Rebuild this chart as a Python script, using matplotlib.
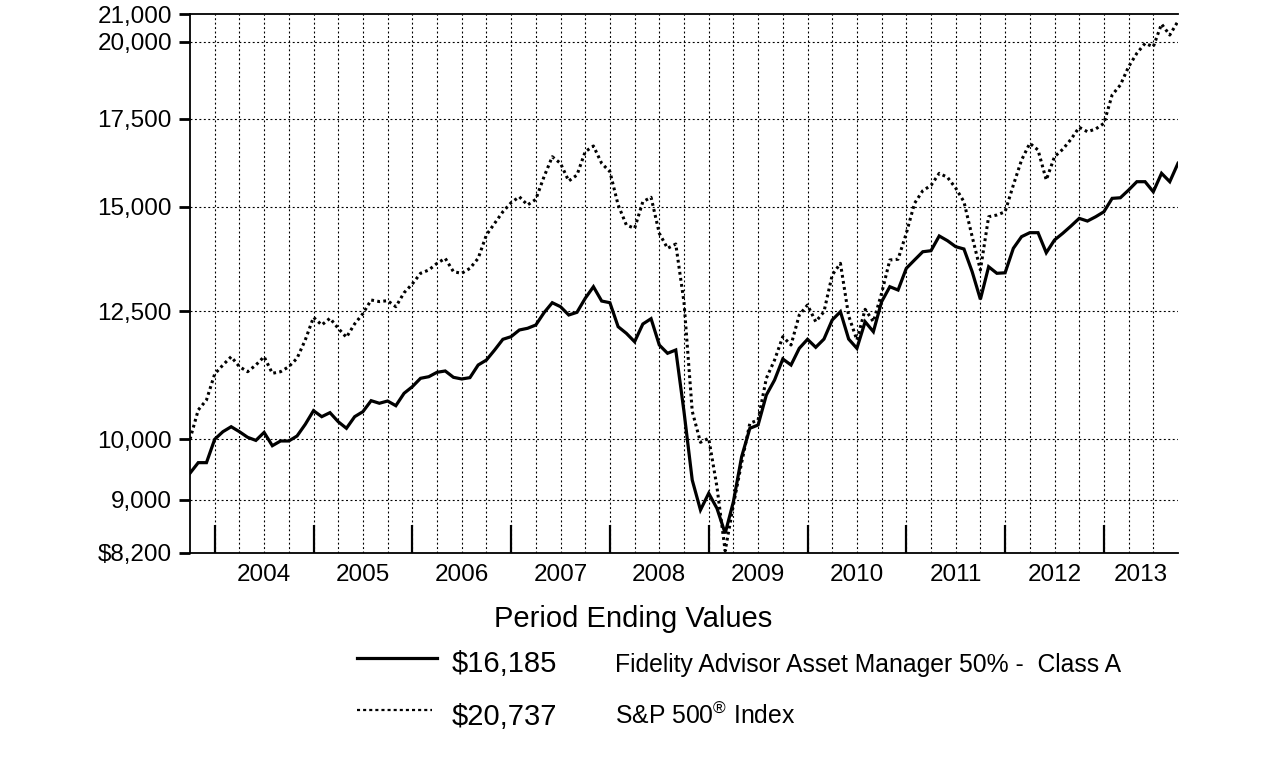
import numpy as np
import matplotlib
matplotlib.use("Agg")
import matplotlib.pyplot as plt
from matplotlib.lines import Line2D
from matplotlib.ticker import FixedLocator, FixedFormatter, NullFormatter

plt.rcParams['font.family'] = ['Liberation Sans', 'DejaVu Sans']
plt.rcParams['lines.scale_dashes'] = False
plt.rcParams['mathtext.fontset'] = 'custom'
plt.rcParams['mathtext.rm'] = 'Liberation Sans'

# ---------------- data (month-end values, Sep 2003 .. Sep 2013) ----------------
fund = [9425, 9600, 9600, 10000, 10133, 10221, 10133, 10034, 9980, 10120,
        9888, 9970, 9970, 10057, 10264, 10511, 10402, 10475, 10311, 10193,
        10402, 10493, 10696, 10648, 10690, 10603, 10835, 10960, 11122, 11153,
        11239, 11265, 11141, 11109, 11135, 11383, 11482, 11685, 11905, 11960,
        12100, 12136, 12206, 12471, 12690, 12602, 12421, 12479, 12787, 13049,
        12727, 12690, 12170, 12030, 11855, 12227, 12341, 11787, 11618, 11685,
        10493, 9313, 8839, 9100, 8865, 8486, 8968, 9700, 10193, 10252,
        10802, 11089, 11503, 11383, 11719, 11905, 11740, 11910, 12313, 12493,
        11910, 11719, 12276, 12064, 12712, 13049, 12974, 13474, 13672, 13870,
        13895, 14257, 14140, 13993, 13937, 13395, 12765, 13512, 13358, 13370,
        13953, 14240, 14339, 14339, 13846, 14157, 14323, 14506, 14702, 14633,
        14743, 14872, 15224, 15240, 15446, 15673, 15673, 15400, 15904, 15673,
        16185]

sp500 = [10000, 10524, 10709, 11206, 11383, 11549, 11350, 11251, 11383, 11549,
         11219, 11251, 11350, 11517, 11891, 12371, 12206, 12350, 12136, 11947,
         12230, 12450, 12750, 12715, 12735, 12602, 12913, 13111, 13358, 13435,
         13592, 13712, 13395, 13358, 13474, 13712, 14281, 14575, 14872, 15109,
         15267, 15049, 15197, 15810, 16371, 16183, 15692, 15857, 16515, 16680,
         16183, 15949, 15049, 14532, 14448, 15135, 15252, 14323, 13953, 14058,
         12700, 10500, 9947, 10016, 9205, 8230, 8917, 9600, 10283, 10341,
         11122, 11482, 11960, 11787, 12421, 12639, 12276, 12493, 13318, 13592,
         12400, 11891, 12545, 12276, 12900, 13672, 13690, 14323, 15092, 15428,
         15573, 15904, 15793, 15499, 15135, 14240, 13435, 14743, 14788, 14872,
         15580, 16277, 16759, 16564, 15720, 16371, 16584, 16876, 17233, 17101,
         17182, 17353, 18234, 18554, 19154, 19608, 19952, 19835, 20636, 20243,
         20737]

years = ["2004", "2005", "2006", "2007", "2008", "2009", "2010", "2011", "2012", "2013"]
y_ticks = [8200, 9000, 10000, 12500, 15000, 17500, 20000, 21000]
y_labels = ["$8,200", "9,000", "10,000", "12,500", "15,000", "17,500", "20,000", "21,000"]
grid_values = [9000, 10000, 12500, 15000, 17500, 20000]

fund_name = "Fidelity Advisor Asset Manager 50% -  Class A"
index_name = "S&P 500$^{®}$ Index"
fund_end = "$16,185"
index_end = "$20,737"
legend_title = "Period Ending Values"

# ---------------- figure ----------------
W, H = 1276, 761
fig = plt.figure(figsize=(W / 100, H / 100), dpi=100)
L, R, T, B = 190, 1178, 14, 553
ax = fig.add_axes([L / W, 1 - B / H, (R - L) / W, (B - T) / H])

n = len(fund)
x = np.arange(n)
ax.set_yscale('log')
ax.set_ylim(8200, 21000)
ax.set_xlim(0, n - 1)

# grid
dot = dict(color='black', lw=0.8, dashes=(1.4, 1.8))
for q in range(3, n - 1, 3):
    ax.axvline(q, **dot, zorder=1)
for g in grid_values:
    ax.axhline(g, **dot, zorder=1)

ax.plot(x, fund, color='black', lw=2.3, solid_joinstyle='miter', zorder=3)
ax.plot(x, sp500, color='black', lw=2.2, dashes=(2.0, 2.4), zorder=3)

# spines
for s in ['left', 'top', 'bottom']:
    ax.spines[s].set_linewidth(1.3)
ax.spines['right'].set_visible(False)

# y axis
ax.yaxis.set_major_locator(FixedLocator(y_ticks))
ax.yaxis.set_major_formatter(FixedFormatter(y_labels))
ax.yaxis.set_minor_locator(FixedLocator([]))
ax.yaxis.set_minor_formatter(NullFormatter())
ax.tick_params(axis='y', which='major', direction='out', length=8, width=2,
               labelsize=17.5, pad=5)

# x axis: year-end ticks inward, labels centred on each year
year_ends = [3 + 12 * k for k in range(len(years))]
centers = [(e + min(e + 12, n - 1)) / 2 for e in year_ends]
ax.xaxis.set_major_locator(FixedLocator(year_ends))
ax.xaxis.set_major_formatter(NullFormatter())
ax.xaxis.set_minor_locator(FixedLocator(centers))
ax.xaxis.set_minor_formatter(FixedFormatter(years))
ax.tick_params(axis='x', which='major', direction='in', length=20, width=1.6)
ax.tick_params(axis='x', which='minor', length=0, labelsize=17.5, pad=8)

# ---------------- legend block ----------------
def fx(px):
    return px / W

def fy(py):
    return 1 - py / H

fig.text(fx(633), fy(619), legend_title, ha='center', va='center', fontsize=21)
fig.add_artist(Line2D([fx(357), fx(437)], [fy(658), fy(658)], color='black', lw=2.3))
fig.add_artist(Line2D([fx(357), fx(432)], [fy(710), fy(710)], color='black', lw=1.6,
                      dashes=(2.2, 2.2)))
fig.text(fx(452), fy(664), fund_end, ha='left', va='center', fontsize=21)
fig.text(fx(452), fy(717), index_end, ha='left', va='center', fontsize=21)
fig.text(fx(615), fy(665), fund_name, ha='left', va='center', fontsize=17.8)
fig.text(fx(615), fy(716), index_name, ha='left', va='center', fontsize=17.8)

fig.savefig("out.png", dpi=100)
